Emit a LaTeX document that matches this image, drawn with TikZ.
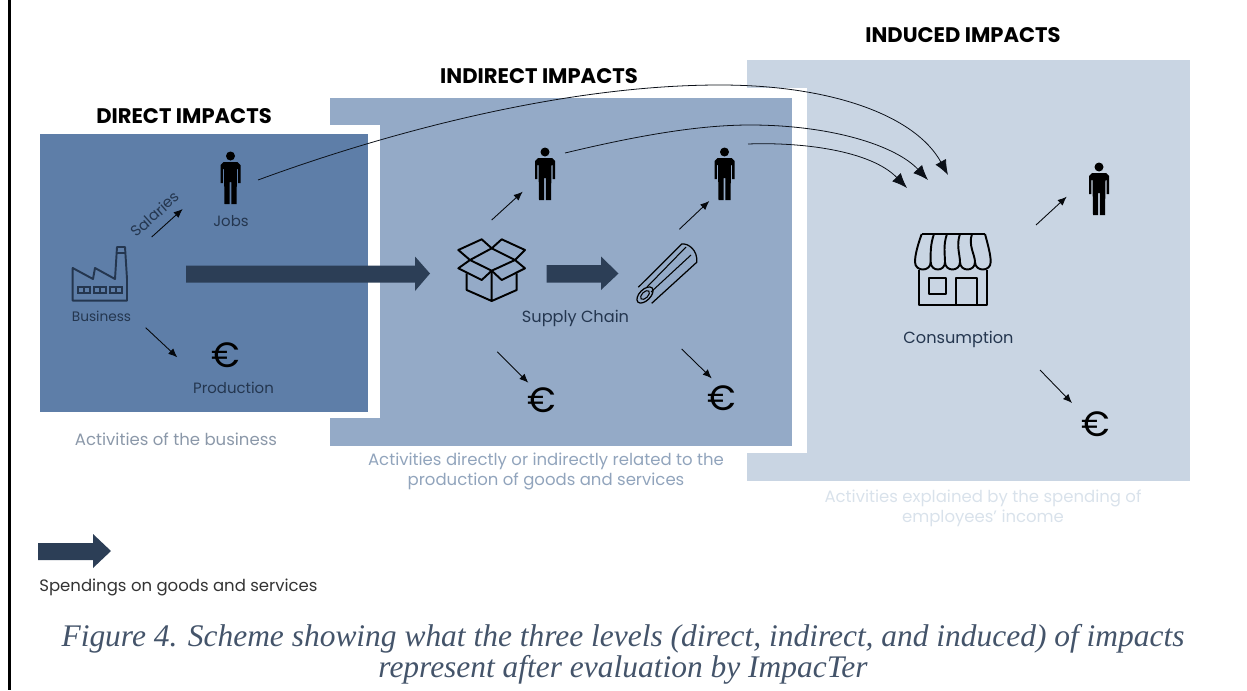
\documentclass[tikz,border=0pt]{standalone}
\usepackage{fontspec}
\setmainfont{Poppins}
\newfontfamily\captionfont{Liberation Serif}
\usetikzlibrary{arrows.meta}
\definecolor{directblue}{HTML}{5E7EA8}
\definecolor{indirectblue}{HTML}{94AAC7}
\definecolor{inducedblue}{HTML}{C9D5E3}
\definecolor{arrowdark}{HTML}{2C3E56}
\definecolor{labeldark}{HTML}{24364F}
\definecolor{captionblue}{HTML}{44546A}
\tikzset{
    heading/.style={font=\fontsize{12}{14}\selectfont\bfseries, black},
    label/.style={font=\fontsize{8.5}{10}\selectfont, labeldark},
    biglabel/.style={font=\fontsize{9.2}{10}\selectfont, labeldark},
    note/.style={font=\fontsize{9.4}{11.4}\selectfont, align=center},
    thin arrow/.style={-{Latex[length=1.8mm,width=1.5mm]}, line width=0.5pt, black!85!labeldark},
    long arrow/.style={-{Latex[length=3mm,width=2.4mm]}, line width=0.45pt, black!70!labeldark},
    icon/.style={line width=1.1pt, black, line join=round},
    euro/.style={font=\fontsize{20}{20}\selectfont, black},
    pics/person/.style={code={
        \fill (0,-23) circle (4.5);
        \fill (-10,-14) -- (-7,-17) -- (7,-17) -- (10,-14) -- (10,4) -- (7.7,4) -- (7.7,-10) -- (6.5,-10) -- (6,25) -- (0.8,25) -- (0.8,3) -- (-0.8,3) -- (-0.8,25) -- (-6,25) -- (-6.5,-10) -- (-7.7,-10) -- (-7.7,4) -- (-10,4) -- cycle;
    }},
}
\begin{document}
\begin{tikzpicture}[x=0.02cm,y=-0.02cm]
    \useasboundingbox (0,0) rectangle (1247,690);
    \draw[line width=1.5pt] (9.5,0) -- (9.5,690);
    % the three levels
    \fill[inducedblue] (747,60) rectangle (1190,481);
    \fill[white] (747,88) rectangle (807,453);
    \fill[indirectblue] (330,98) rectangle (792,446);
    \fill[white] (330,125) rectangle (380,418);
    \fill[directblue] (40,134) rectangle (368,412);
    \node[heading] (directtitle) at (184,116) {DIRECT IMPACTS};
    \node[heading] (indirecttitle) at (539,76) {INDIRECT IMPACTS};
    \node[heading] (inducedtitle) at (963,35) {INDUCED IMPACTS};
    % people
    \pic[black] at (230.5,179) {person};
    \pic[black] at (545,175) {person};
    \pic[black] at (724.5,175) {person};
    \pic[black] at (1099,190) {person};
    % factory
    \draw[icon, labeldark] (72.7,300.7) -- (72.7,268) -- (93,279) -- (95,268) -- (115,279) -- (117,247) -- (125,247) -- (127,279) -- (127,300.7) -- cycle;
    \draw[icon, labeldark, line width=0.6pt] (116.5,253) -- (125.5,253);
    \foreach \x in {78,94,110}{
        \draw[labeldark, line width=0.7pt] (\x,287) rectangle (\x+12,293) (\x+6,287) -- (\x+6,293);
    }
    % box
    \draw[icon] (470,260) -- (491.7,248.3) -- (515,260) -- (491.7,270.7) -- cycle;
    \draw[icon] (466.7,273.3) -- (466.7,290) -- (491.7,301) -- (516.7,290) -- (516.7,273.3) (491.7,270.7) -- (491.7,301);
    \draw[icon] (470,260) -- (458.3,250) -- (481.7,239.3) -- (491.7,248.3) -- (501.7,239.3) -- (525,250) -- (515,260);
    \draw[icon] (470,260) -- (458.3,268.3) -- (481.7,280) -- (491.7,270.7) -- (501.7,280) -- (525,268.3) -- (515,260);
    % roll
    \draw[black, line width=0.7pt] (638.3,287.3) -- (681.7,244) .. controls (688,243) and (698,250) .. (696.7,262.3) -- (651.7,303.3);
    \draw[black, line width=0.7pt] (645,295) ellipse [x radius=10, y radius=5.5, rotate=45];
    \draw[black, line width=0.6pt] (645,295) ellipse [x radius=5.5, y radius=3, rotate=45];
    \draw[black, line width=0.6pt] (647,287) -- (686,247) (651,292) -- (691,255);
    % shop
    \draw[icon] (919.3,270) -- (919.3,305) -- (986.7,305) -- (986.7,270);
    \draw[icon] (929,278.3) rectangle (945.7,294);
    \draw[icon] (955.7,305) -- (955.7,278.3) -- (976.7,278.3) -- (976.7,305);
    \draw[icon] (921.7,234) -- (985,234);
    \foreach \a/\b/\c/\d in {921.7/915/930.7/934, 934/930.7/945/947, 947/945/960/960, 960/960/975/972, 972/975/990.7/985}{
        \draw[icon] (\a,234) .. controls (\a-4,245) and (\b,255) .. (\b,262) .. controls (\b,272) and (\c,272) .. (\c,262);
    }
    \draw[icon] (985,234) .. controls (988,245) and (990.7,255) .. (990.7,262);
    % euros
    \node[euro] (euroa) at (226,355) {€};
    \node[euro] (eurob) at (542,400) {€};
    \node[euro] (euroc) at (722,398) {€};
    \node[euro] (eurod) at (1096,424) {€};
    % labels
    \node[label] (jobs) at (231,221) {Jobs};
    \node[label, font=\fontsize{7.8}{10}\selectfont] (business) at (101.5,316) {Business};
    \node[label] (production) at (233.5,388) {Production};
    \node[biglabel] (supply) at (575.5,318) {Supply Chain};
    \node[biglabel] (consumption) at (958.5,339) {Consumption};
    \node[label, rotate=42] (salaries) at (155,214) {Salaries};
    \node[note, text=gray!50!directblue!80] (notea) at (176,439) {Activities of the business};
    \node[note, text=indirectblue!85!gray] (noteb) at (546,471) {Activities directly or indirectly related to the\\production of goods and services};
    \node[note, text=inducedblue!70] (notec) at (983,508.5) {Activities explained by the spending of\\employees' income};
    \node[note, anchor=west, inner sep=0pt, text=black!80] (legendtext) at (39,587) {Spendings on goods and services};
    % thin arrows
    \coordinate (sala) at (151.7,237);
    \coordinate (salb) at (182.7,209);
    \coordinate (proda) at (145.7,327.7);
    \coordinate (prodb) at (177.3,357.3);
    \coordinate (boxup) at (491.7,220);
    \coordinate (jobup) at (522.7,191.7);
    \coordinate (rollup) at (679.3,229.3);
    \coordinate (rolljob) at (709.3,201);
    \coordinate (boxdown) at (497.3,351.7);
    \coordinate (boxeuro) at (528.3,382.7);
    \coordinate (rolldown) at (681.7,349);
    \coordinate (rolleuro) at (711.7,378.3);
    \coordinate (shopup) at (1036,225);
    \coordinate (shopjob) at (1066.7,196.7);
    \coordinate (shopdown) at (1040,370);
    \coordinate (shopeuro) at (1072,403);
    \foreach \s/\e in {sala/salb, proda/prodb, boxup/jobup, rollup/rolljob, boxdown/boxeuro, rolldown/rolleuro, shopup/shopjob, shopdown/shopeuro}
        \draw[thin arrow] (\s) -- (\e);
    % block arrows
    \fill[arrowdark] (186,265.5) -- (415,265.5) -- (415,256.5) -- (430,273.5) -- (415,291) -- (415,282.5) -- (186,282.5) -- cycle;
    \fill[arrowdark] (546.5,265) -- (601,265) -- (601,256.5) -- (618.5,273.5) -- (601,290) -- (601,282.5) -- (546.5,282.5) -- cycle;
    \fill[arrowdark] (38,543) -- (93,543) -- (93,534) -- (111,551) -- (93,568) -- (93,560) -- (38,560) -- cycle;
    % income arrows
    \coordinate (jobstart) at (258,180);
    \coordinate (joba) at (565,153);
    \coordinate (jobb) at (748,144);
    \coordinate (shoptipa) at (948,175);
    \coordinate (shoptipb) at (928,180);
    \coordinate (shoptipc) at (907,188);
    \draw[long arrow] (jobstart) .. controls (380,135) and (560,85) .. (720,85) .. controls (830,85) and (915,115) .. (shoptipa);
    \draw[long arrow] (joba) .. controls (640,135) and (700,125) .. (750,125) .. controls (830,125) and (895,145) .. (shoptipb);
    \draw[long arrow] (jobb) .. controls (800,142) and (870,150) .. (shoptipc);
    % caption
    \node[font=\captionfont\itshape\fontsize{17.9}{17.6}\selectfont, text=captionblue, align=center] (figcaption) at (623,654) {Figure 4. Scheme showing what the three levels (direct, indirect, and induced) of impacts\\represent after evaluation by ImpacTer};
\end{tikzpicture}
\end{document}
